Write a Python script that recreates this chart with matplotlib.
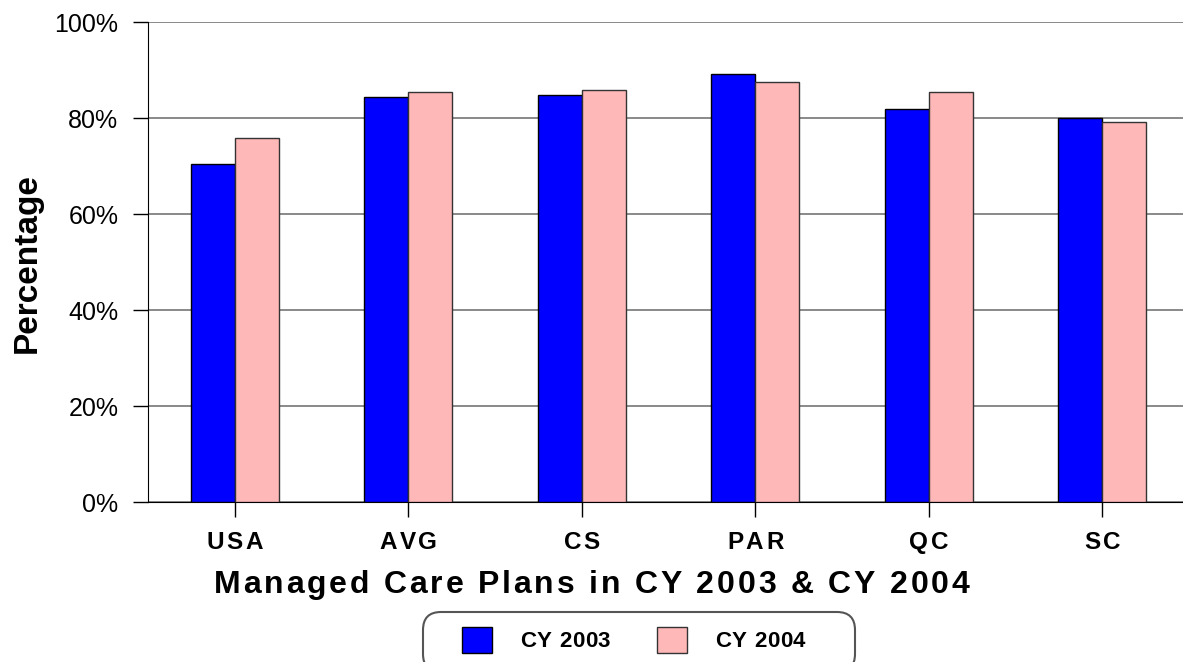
import matplotlib
matplotlib.use("Agg")
import matplotlib.pyplot as plt
from matplotlib.patches import FancyBboxPatch, Rectangle
from matplotlib.font_manager import FontProperties, findfont, get_font
import numpy as np

# data
plans = ["USA", "AVG", "CS", "PAR", "QC", "SC"]
cy2003 = [70.4, 84.4, 84.8, 89.2, 81.9, 80.1]
cy2004 = [75.9, 85.5, 85.8, 87.6, 85.5, 79.2]
series_names = ["CY 2003", "CY 2004"]
yticks = [0, 20, 40, 60, 80, 100]
xtitle = "Managed Care Plans in CY 2003 & CY 2004"

W, H = 1183, 662
blue = "#0000ff"
pink = "#ffb8b8"

plt.rcParams["font.family"] = ["Liberation Sans", "DejaVu Sans"]

fig = plt.figure(figsize=(W / 100, H / 100), dpi=100)
ax = fig.add_axes([148 / W, (H - 502) / H, 1041 / W, 480 / H])


def spaced_text(x, y, s, spacing, size, ha="center"):
    # x, y in image pixels (y from top); draws text with extra letter spacing
    prop = FontProperties(family="Liberation Sans", weight="bold", size=size)
    font = get_font(findfont(prop))
    font.set_size(size, fig.dpi)
    adv = [font.load_char(ord(c)).linearHoriAdvance / 65536 for c in s]
    total = sum(adv) + spacing * (len(s) - 1)
    x0 = x - total / 2 if ha == "center" else x
    for c, a in zip(s, adv):
        if c != " ":
            fig.text(x0 / W, (H - y) / H, c, fontproperties=prop,
                     ha="left", va="baseline", color="black")
        x0 += a + spacing


x = np.arange(len(plans))
w = 0.255
ax.bar(x - w / 2, cy2003, w, color=blue, edgecolor="black", linewidth=1, zorder=3)
ax.bar(x + w / 2, cy2004, w, color=pink, edgecolor="#333333", linewidth=1, zorder=3)

ax.set_xlim(-0.5, len(plans) - 0.5)
ax.set_ylim(0, 100)
ax.set_yticks(yticks)
ax.set_yticklabels([f"{v}%" for v in yticks], fontsize=18)
ax.yaxis.grid(True, color="#808080", linewidth=1.3, zorder=0)
ax.set_axisbelow(True)

ax.set_xticks(x)
ax.set_xticklabels([])
ax.tick_params(axis="x", direction="out", length=10.5, width=1, color="black")
ax.tick_params(axis="y", direction="out", length=10.8, width=1, color="black", pad=10.5)

for s in ["top", "right"]:
    ax.spines[s].set_visible(False)
ax.spines["left"].set_color("black")
ax.spines["bottom"].set_color("black")

# category labels, letter-spaced
fig.canvas.draw()
for i, name in enumerate(plans):
    px = ax.transData.transform((i, 0))[0]
    spaced_text(px, 549, name, 2.6, 17.5)

# axis titles
spaced_text(W / 2, 593, xtitle, 2.8, 23)
fig.text(27.5 / W, (H - 263) / H, "Percentage", rotation=90, fontsize=24,
         fontweight="bold", ha="center", va="center")

# legend box drawn by hand (rounded, cut off at the bottom)
box = FancyBboxPatch((423, H - 672), 432, 60,
                     boxstyle="round,pad=0,rounding_size=18",
                     transform=None, facecolor="white", edgecolor="#555555",
                     linewidth=1.5)
fig.patches.append(box)
for hx, col, ec, tx, lab in [(462, blue, "black", 520, series_names[0]),
                             (657, pink, "#333333", 715, series_names[1])]:
    fig.patches.append(Rectangle((hx, H - 653), 30, 26, transform=None,
                                 facecolor=col, edgecolor=ec, linewidth=1))
    spaced_text(tx, 647, lab, 0.6, 16, ha="left")

plt.savefig("out.png", dpi=100)
